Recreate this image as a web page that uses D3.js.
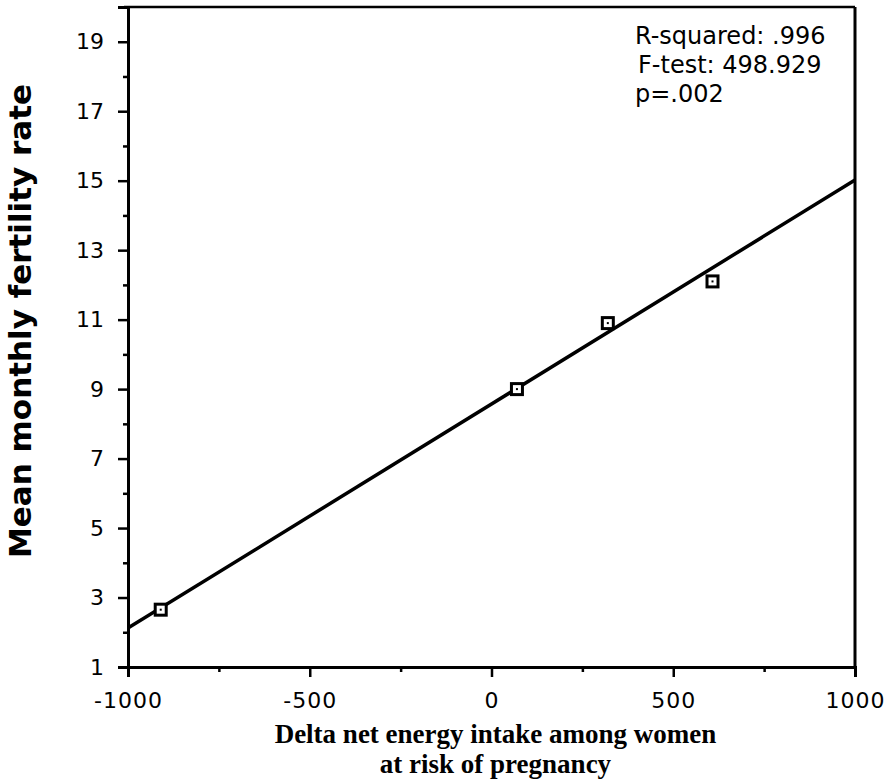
<!DOCTYPE html>
<html>
<meta charset="utf-8">
<style>
    body { margin: 0; background: #fff; }
    .tick text { fill: #000; }
    .fit { fill: none; stroke: #000; stroke-width: 3.5px; }
</style>

<body>
    <script src="https://d3js.org/d3.v7.min.js"></script>
    <script>

        // data
        var energy = [-910, 70, 320, 608];
        var fertility = [2.65, 9.0, 10.9, 12.1];

        // regression line end points as drawn
        var fitX = [-1000, 1000];
        var fitY = [2.12, 15.02];

        var xTicks = [-1000, -500, 0, 500, 1000];
        var xMinor = [-750, -250, 250, 750];
        var yTicks = [1, 3, 5, 7, 9, 11, 13, 15, 17, 19];
        var yMinor = [2, 4, 6, 8, 10, 12, 14, 16, 18];

        var stats = ["R-squared: .996", "F-test: 498.929", "p=.002"];

        // dimensions
        var margin = { top: 7, right: 36, bottom: 116, left: 128 },
            width = 891 - margin.left - margin.right,
            height = 783 - margin.top - margin.bottom;

        var x = d3.scaleLinear().domain([-1000, 1000]).range([0, width]);
        var y = d3.scaleLinear().domain([1, 20]).range([height, 0]);

        var svg = d3.select("body").append("svg")
            .attr("width", 891)
            .attr("height", 783)
            .append("g")
            .attr("transform", "translate(" + margin.left + "," + margin.top + ")");

        // frame top and right
        svg.append("line")
            .attr("x1", -4).attr("x2", width)
            .attr("y1", 0).attr("y2", 0)
            .attr("stroke", "#000").attr("stroke-width", 2.5);
        svg.append("line")
            .attr("x1", width).attr("x2", width)
            .attr("y1", 0).attr("y2", height)
            .attr("stroke", "#000").attr("stroke-width", 3);

        // X axis
        var xAxis = svg.append("g")
            .attr("transform", "translate(0," + height + ")")
            .call(d3.axisBottom(x).tickValues(xTicks).tickSize(10).tickPadding(15)
                .tickFormat(function (d) { return String(d); }));
        xAxis.selectAll("text")
            .style("font-family", "DejaVu Sans")
            .style("font-size", "22px")
            .style("letter-spacing", "1px");
        svg.append("g")
            .attr("transform", "translate(0," + height + ")")
            .call(d3.axisBottom(x).tickValues(xMinor).tickSize(5).tickFormat(""))
            .select(".domain").remove();

        // Y axis
        var yAxis = svg.append("g")
            .call(d3.axisLeft(y).tickValues(yTicks).tickSize(10).tickPadding(14)
                .tickFormat(function (d) { return String(d); }));
        yAxis.selectAll("text")
            .style("font-family", "DejaVu Sans")
            .style("font-size", "22px");
        svg.append("g")
            .call(d3.axisLeft(y).tickValues(yMinor).tickSize(5).tickFormat(""))
            .select(".domain").remove();

        svg.selectAll(".domain")
            .attr("stroke", "#000").attr("stroke-width", 3);
        svg.selectAll(".tick line")
            .attr("stroke", "#000").attr("stroke-width", 2.5);

        // regression line
        var fit = fitX.map(function (d, i) { return [d, fitY[i]]; });
        svg.append("path")
            .datum(fit)
            .attr("class", "fit")
            .attr("d", d3.line()
                .x(function (d) { return x(d[0]); })
                .y(function (d) { return y(d[1]); }));

        // points: open squares with a dot
        var pts = energy.map(function (d, i) { return { x: d, y: fertility[i] }; });
        svg.selectAll(".pt")
            .data(pts)
            .enter().append("rect")
            .attr("class", "pt")
            .attr("x", function (d) { return x(d.x) - 5.5; })
            .attr("y", function (d) { return y(d.y) - 5.5; })
            .attr("width", 11).attr("height", 11)
            .attr("fill", "#fff")
            .attr("stroke", "#000")
            .attr("stroke-width", 3);
        svg.selectAll(".dot")
            .data(pts)
            .enter().append("rect")
            .attr("x", function (d) { return x(d.x) - 1; })
            .attr("y", function (d) { return y(d.y) - 1; })
            .attr("width", 2).attr("height", 2)
            .attr("fill", "#000");

        // statistics text
        svg.selectAll(".stat")
            .data(stats)
            .enter().append("text")
            .attr("class", "stat")
            .attr("x", function (d, i) { return 507 + (i == 1 ? 3 : 0); })
            .attr("y", function (d, i) { return 37 + i * 29; })
            .style("font-family", "DejaVu Sans")
            .style("font-size", "24px")
            .text(function (d) { return d; });

        // Y axis label
        svg.append("text")
            .attr("transform", "rotate(-90)")
            .attr("x", -314)
            .attr("y", 31 - margin.left)
            .style("text-anchor", "middle")
            .style("font-family", "DejaVu Sans")
            .style("font-weight", "bold")
            .style("font-size", "31px")
            .text("Mean monthly fertility rate");

        // X axis label
        svg.append("text")
            .attr("x", x(0) + 4)
            .attr("y", height + 76)
            .style("text-anchor", "middle")
            .style("font-family", "Liberation Serif")
            .style("font-weight", "bold")
            .style("font-size", "27px")
            .text("Delta net energy intake among women");
        svg.append("text")
            .attr("x", x(0) + 4)
            .attr("y", height + 106)
            .style("text-anchor", "middle")
            .style("font-family", "Liberation Serif")
            .style("font-weight", "bold")
            .style("font-size", "27px")
            .text("at risk of pregnancy");

    </script>
</body>
</html>
